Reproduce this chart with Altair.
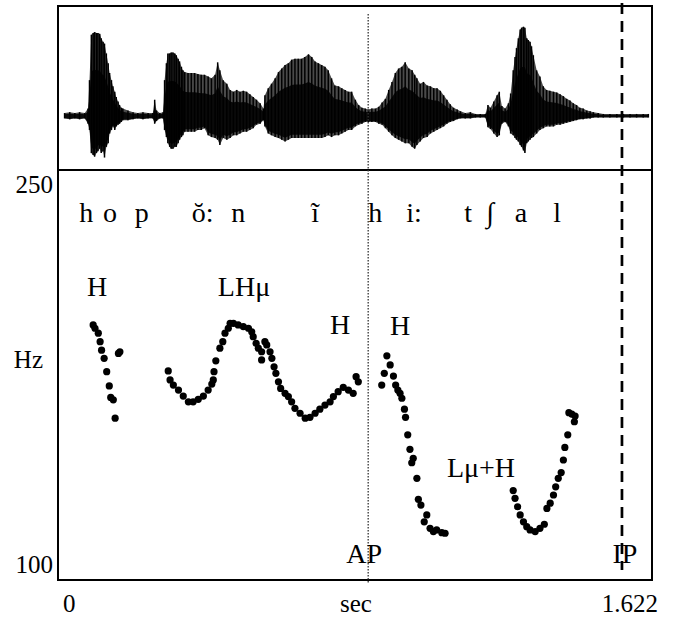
import altair as alt
import pandas as pd

# ---------------- data ----------------
T_END = 1.622          # seconds
F0_MIN, F0_MAX = 100, 250

# F0 track (s, Hz)
pitch_t = [0.096, 0.101, 0.110, 0.115, 0.119, 0.126, 0.133, 0.140, 0.144, 0.151, 0.156, 0.165, 0.169,
           0.301, 0.306, 0.315, 0.329, 0.342, 0.356, 0.369, 0.383, 0.397, 0.410, 0.420, 0.424, 0.426,
           0.431, 0.442, 0.450, 0.456, 0.465, 0.470, 0.479, 0.492, 0.506, 0.520, 0.529, 0.533, 0.541,
           0.547, 0.556, 0.556, 0.565, 0.570, 0.579, 0.584, 0.590, 0.595, 0.602, 0.608, 0.620, 0.629,
           0.638, 0.647, 0.661, 0.675, 0.688, 0.702, 0.715, 0.729, 0.743, 0.752, 0.765, 0.779, 0.793,
           0.806, 0.814, 0.820,
           0.898, 0.907, 0.891, 0.884, 0.916, 0.922, 0.928, 0.934, 0.939, 0.946, 0.949, 0.955, 0.961,
           0.970, 0.966, 0.980, 0.984, 0.991, 1.007, 1.000, 1.016, 1.025, 1.034, 1.048, 1.057,
           1.243, 1.248, 1.255, 1.262, 1.271, 1.280, 1.289, 1.303, 1.316, 1.328, 1.335, 1.344, 1.353,
           1.359, 1.366, 1.374, 1.380, 1.384, 1.392, 1.395, 1.403, 1.410, 1.412]
pitch_hz = [193.3, 192.1, 190.3, 187.2, 184.1, 181.1, 176.2, 171.0, 166.8, 165.9, 159.2, 182.9, 183.5,
            176.5, 173.2, 171.3, 169.5, 167.3, 165.2, 165.2, 166.1, 167.3, 169.5, 171.7, 173.2, 176.2,
            180.2, 184.8, 187.2, 190.3, 192.1, 193.9, 193.9, 193.3, 192.7, 192.1, 190.8, 189.0, 186.6,
            184.8, 180.5, 183.5, 187.2, 186.0, 183.5, 181.1, 178.0, 175.6, 172.5, 170.1, 168.3, 167.1,
            165.2, 162.8, 161.0, 159.2, 159.5, 161.0, 162.5, 164.0, 165.2, 167.1, 168.9, 170.5, 169.5,
            168.3, 174.4, 172.5,
            182.0, 178.7, 175.6, 171.3, 174.6, 171.3, 169.5, 168.3, 166.5, 162.5, 159.5, 153.1, 147.8,
            144.5, 142.9, 137.2, 129.5, 127.4, 123.8, 121.3, 118.9, 117.7, 118.3, 117.3, 117.1,
            132.7, 129.9, 126.8, 123.8, 121.3, 119.5, 118.3, 117.7, 118.9, 120.4, 126.2, 128.1, 131.1,
            134.1, 137.2, 139.3, 143.9, 148.5, 153.1, 161.2, 160.7, 157.9, 160.0]

# waveform envelope (s, upper / lower relative amplitude)
wave_t = [0.018, 0.032, 0.046, 0.059, 0.073, 0.082, 0.086, 0.091, 0.096, 0.100, 0.105, 0.109, 0.114,
          0.118, 0.123, 0.127, 0.132, 0.137, 0.141, 0.146, 0.150, 0.155, 0.159, 0.164, 0.168, 0.173,
          0.177, 0.191, 0.205, 0.218, 0.232, 0.246, 0.259, 0.264, 0.269, 0.278, 0.287, 0.291, 0.296,
          0.300, 0.305, 0.309, 0.314, 0.319, 0.323, 0.328, 0.332, 0.337, 0.341, 0.346, 0.355, 0.364,
          0.373, 0.382, 0.391, 0.400,
          0.410, 0.419, 0.429, 0.436, 0.442, 0.451, 0.461, 0.470, 0.479, 0.488, 0.497, 0.506, 0.515,
          0.524, 0.533, 0.542, 0.552, 0.561, 0.565, 0.574, 0.583, 0.593, 0.602, 0.611, 0.620, 0.629,
          0.638, 0.647, 0.656, 0.665, 0.674, 0.684, 0.693, 0.702, 0.711, 0.720, 0.729, 0.738, 0.747,
          0.756, 0.766, 0.775, 0.784, 0.793, 0.802,
          0.812, 0.821, 0.830, 0.839, 0.848, 0.857, 0.867, 0.876, 0.885, 0.894, 0.903, 0.912, 0.921,
          0.930, 0.939, 0.948, 0.958, 0.967, 0.974, 0.980, 0.989, 0.998, 1.008, 1.017, 1.026, 1.035,
          1.044, 1.053, 1.062, 1.071, 1.080, 1.090, 1.099, 1.112, 1.126, 1.140, 1.153, 1.167, 1.174,
          1.181, 1.190, 1.199, 1.205,
          1.212, 1.221, 1.230, 1.236, 1.243, 1.248, 1.252, 1.257, 1.262, 1.266, 1.271, 1.275, 1.280,
          1.284, 1.289, 1.293, 1.298, 1.307, 1.316, 1.325, 1.334, 1.343, 1.353, 1.362, 1.371, 1.380,
          1.389, 1.398, 1.407, 1.416, 1.425, 1.434, 1.444, 1.453, 1.462, 1.475, 1.489, 1.507, 1.526,
          1.544, 1.562, 1.580, 1.598, 1.612]
wave_hi = [.03, .04, .03, .04, .03, .08, .40, .91, .93, .94, .93, .93, .92,
           .87, .83, .81, .70, .59, .48, .40, .33, .27, .21, .16, .12, .09,
           .08, .06, .04, .03, .04, .03, .03, .18, .06, .03, .04, .40, .59,
           .70, .70, .71, .71, .70, .68, .64, .61, .55, .51, .49, .48, .48,
           .48, .47, .46, .46,
           .44, .42, .46, .60, .51, .40, .36, .29, .27, .29, .27, .28, .27,
           .24, .21, .18, .14, .08, .23, .31, .36, .42, .49, .53, .57, .59,
           .63, .64, .64, .64, .66, .69, .66, .61, .59, .57, .55, .51, .42,
           .34, .33, .31, .29, .27, .27,
           .18, .12, .09, .08, .07, .08, .08, .10, .15, .19, .29, .38, .48,
           .53, .55, .60, .53, .51, .46, .42, .36, .38, .34, .33, .31, .31,
           .28, .23, .18, .13, .09, .07, .05, .03, .04, .02, .02, .02, .12,
           .09, .16, .23, .27,
           .11, .08, .14, .25, .51, .66, .76, .87, .97, .99, 1.00, .99, .87,
           .85, .83, .78, .68, .51, .44, .33, .29, .28, .27, .26, .24, .22,
           .19, .17, .14, .12, .09, .08, .06, .05, .04, .03, .02, .02, .02,
           .02, .02, .02, .02, .02]
wave_lo = [-.03, -.04, -.03, -.04, -.03, -.09, -.16, -.42, -.44, -.46, -.42, -.40, -.37,
           -.42, -.40, -.47, -.35, -.31, -.20, -.16, -.12, -.16, -.12, -.10, -.09, -.07,
           -.05, -.05, -.04, -.03, -.04, -.03, -.03, -.09, -.06, -.03, -.03, -.16, -.24,
           -.31, -.35, -.37, -.37, -.35, -.35, -.31, -.27, -.24, -.22, -.18, -.18, -.18,
           -.18, -.16, -.16, -.14,
           -.22, -.24, -.25, -.27, -.33, -.25, -.27, -.25, -.22, -.22, -.20, -.18, -.18,
           -.16, -.14, -.10, -.09, -.05, -.12, -.20, -.22, -.24, -.25, -.27, -.29, -.27,
           -.25, -.25, -.25, -.25, -.25, -.25, -.25, -.25, -.25, -.25, -.24, -.22, -.24,
           -.22, -.22, -.20, -.18, -.16, -.16,
           -.12, -.10, -.09, -.07, -.07, -.07, -.07, -.09, -.10, -.14, -.18, -.22, -.25,
           -.27, -.29, -.31, -.31, -.35, -.37, -.33, -.29, -.25, -.24, -.20, -.18, -.16,
           -.14, -.12, -.09, -.07, -.06, -.04, -.03, -.03, -.03, -.02, -.02, -.02, -.13,
           -.15, -.20, -.24, -.22,
           -.09, -.07, -.12, -.20, -.22, -.25, -.27, -.29, -.33, -.35, -.39, -.42, -.31,
           -.29, -.27, -.25, -.24, -.20, -.16, -.14, -.12, -.12, -.12, -.10, -.10, -.09,
           -.08, -.07, -.06, -.05, -.04, -.04, -.03, -.03, -.02, -.02, -.02, -.02, -.02,
           -.02, -.02, -.02, -.02, -.02]

# segmental tier
phon_text = ["h", "o", "p", "ŏ:", "n", "ĩ", "h", "i:", "t", "∫", "a", "l"]
phon_t = [0.077, 0.142, 0.229, 0.395, 0.492, 0.702, 0.866, 0.972, 1.120, 1.180, 1.264, 1.363]
phon_hz = [231] * len(phon_text)

# tonal labels
tone_text = ["H", "LHμ", "H", "H", "Lμ+H", "AP", "IP"]
tone_t = [0.1065, 0.508, 0.770, 0.934, 1.155, 0.836, 1.548]
tone_hz = [203.9, 203.9, 190.0, 189.6, 137.7, 106.2, 106.2]

# phrase boundaries
ap_t = [0.847]
ip_t = [1.540]

# axis texts
y_tick_labels = ["250", "100"]
x_tick_labels = ["0", "1.622"]
y_unit, x_unit = "Hz", "sec"

# ---------------- chart ----------------
W, H = 594, 574          # whole frame (waveform panel 164 px + pitch panel 410 px)
WAVE_H = 164
FONT = "Liberation Serif"

pitch_df = pd.DataFrame({"t": pitch_t, "hz": pitch_hz})
wave_df = pd.DataFrame({"t": wave_t, "hi": wave_hi, "lo": wave_lo})
phon_df = pd.DataFrame({"t": phon_t, "hz": phon_hz, "txt": phon_text})
tone_df = pd.DataFrame({"t": tone_t, "hz": tone_hz, "txt": tone_text})

# pitch scale: 100..250 Hz fills only the lower (pitch) panel of the frame
hz_top = F0_MAX + (F0_MAX - F0_MIN) * WAVE_H / (H - WAVE_H)
xs = alt.Scale(domain=[0, T_END], nice=False, zero=False)
hzs = alt.Scale(domain=[F0_MIN, hz_top], nice=False, zero=False)
amps = alt.Scale(domain=[-5.217, 1.233], nice=False, zero=False)

X = alt.X("t:Q", scale=xs, axis=None)
AMP_HI = alt.Y("hi:Q", scale=amps, axis=None)

wave_area = alt.Chart(wave_df).mark_area(color="#4a4a4a").encode(
    x=X, y=AMP_HI, y2="lo:Q")
wave_core = alt.Chart(wave_df).transform_calculate(
    chi="datum.hi * 0.55", clo="datum.lo * 0.85"
).mark_area(color="#0a0a0a").encode(
    x=X, y=alt.Y("chi:Q", scale=amps, axis=None), y2="clo:Q")
wave_rules = alt.Chart(wave_df).mark_rule(color="black", strokeWidth=1.5).encode(
    x=X, y=AMP_HI, y2="lo:Q")

divider = alt.Chart(pd.DataFrame({"a": [0]})).mark_rule(color="black", strokeWidth=2).encode(
    x=alt.value(0), x2=alt.value(W), y=alt.value(WAVE_H))

ap_line = alt.Chart(pd.DataFrame({"t": ap_t})).mark_rule(
    color="#333", strokeWidth=1.3, strokeDash=[1.5, 1.5]).encode(
    x=X, y=alt.value(8), y2=alt.value(577))
ip_line = alt.Chart(pd.DataFrame({"t": ip_t})).mark_rule(
    color="black", strokeWidth=2.7, strokeDash=[11, 7]).encode(
    x=X, y=alt.value(-3), y2=alt.value(564))

dots = alt.Chart(pitch_df).mark_circle(color="black", opacity=1, size=52).encode(
    x=X, y=alt.Y("hz:Q", scale=hzs, axis=None))

phon = alt.Chart(phon_df).mark_text(font=FONT, fontSize=28, color="black",
                                    align="center", baseline="alphabetic").encode(
    x=X, y=alt.Y("hz:Q", scale=hzs, axis=None), text="txt:N")
tones = alt.Chart(tone_df).mark_text(font=FONT, fontSize=28, color="black",
                                     align="center", baseline="alphabetic").encode(
    x=X, y=alt.Y("hz:Q", scale=hzs, axis=None), text="txt:N")


def label(txt, xv, yv, align):
    return alt.Chart(pd.DataFrame({"txt": [txt]})).mark_text(
        font=FONT, fontSize=25, color="black", align=align, baseline="alphabetic").encode(
        x=alt.value(xv), y=alt.value(yv), text="txt:N")


axis_texts = [
    label(y_tick_labels[0], -5, 187, "right"),
    label(y_unit, -15, 362, "right"),
    label(y_tick_labels[1], -5, 567, "right"),
    label(x_tick_labels[0], 5, 606, "left"),
    label(x_unit, 298, 606, "center"),
    label(x_tick_labels[1], 600, 606, "right"),
]

chart = alt.layer(
    wave_area, wave_core, wave_rules, divider, ap_line, ip_line, dots, phon, tones, *axis_texts
).resolve_scale(y="independent").properties(
    width=W, height=H,
    autosize=alt.AutoSizeParams(type="none"),
    padding={"left": 58, "top": 6, "right": 21, "bottom": 37},
    background="white",
).configure_view(stroke="black", strokeWidth=2)

chart.save("out.html", embed_options={"renderer": "svg", "actions": False})
